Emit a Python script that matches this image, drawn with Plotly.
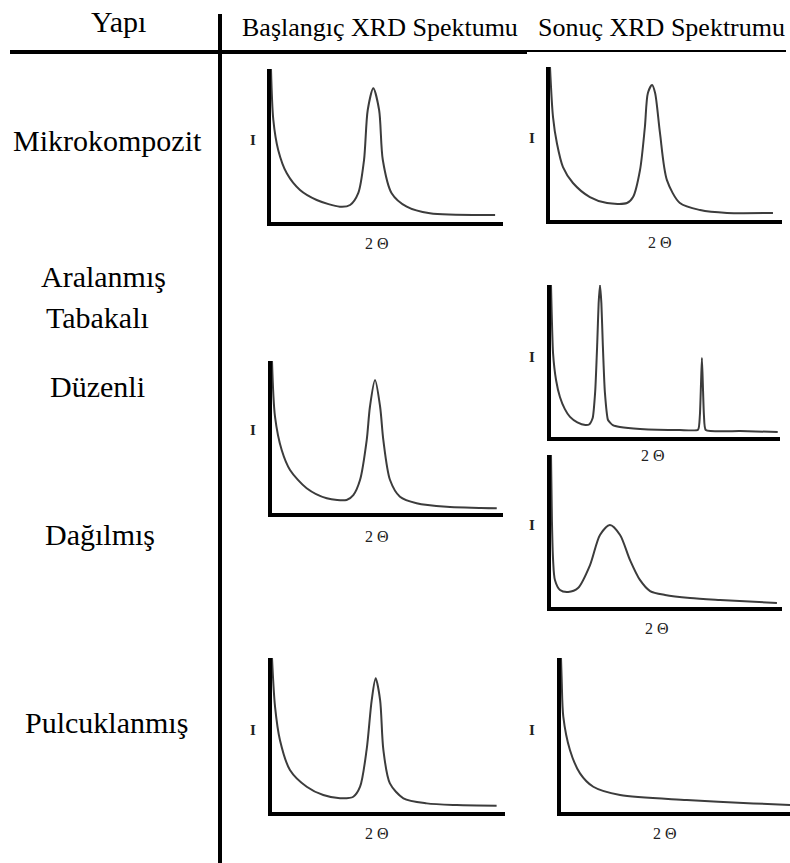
import plotly.graph_objects as go

W, H = 790, 863

# ---------------- data (intensity vs 2-theta, arbitrary units) ----------------
# Başlangıç - Mikrokompozit
p1_x = [0, 1.0, 3.1, 6.8, 12.5, 19.7, 29.7, 34.1, 37.6, 40.1, 41.7, 44.1, 46.6, 48.2, 52.0, 58.5, 68.5, 96.6]
p1_y = [100, 66.7, 47.1, 31.8, 20.9, 14.4, 10.0, 11.1, 18.8, 40.5, 73.2, 87.4, 73.2, 40.5, 18.8, 10.0, 5.7, 4.6]
# Sonuç - Mikrokompozit
p2_x = [0, 1.3, 3.0, 5.6, 9.9, 17.2, 24.6, 33.2, 35.8, 38.8, 40.9, 42.2, 44.0, 45.3, 47.4, 50.4, 56.0, 64.7, 76.3, 96.1]
p2_y = [100, 67.3, 50.0, 34.6, 24.2, 15.0, 11.1, 11.1, 15.0, 32.7, 60.8, 83.0, 88.2, 83.0, 56.9, 26.1, 11.1, 6.5, 4.6, 4.6]
# Sonuç - Aralanmış Tabakalı Düzenli
p3_x = [0, 0.9, 2.2, 3.9, 6.0, 8.3, 11.5, 15.0, 16.8, 18.2, 19.3, 20.2, 20.8, 21.4, 22.0, 22.6, 23.5, 24.9, 27.0, 30.1, 38.9, 56.3, 64.2, 65.0, 65.5, 65.9, 66.3, 66.8, 67.6, 82.5, 99.0]
p3_y = [100, 55.0, 37.5, 26.3, 18.5, 13.2, 9.6, 7.9, 8.4, 12.5, 30.0, 62.0, 88.0, 100, 88.0, 62.0, 30.0, 11.2, 7.8, 6.6, 5.3, 4.6, 4.8, 14.0, 35.0, 52.0, 35.0, 14.0, 4.6, 3.9, 3.3]
# Sonuç - Dağılmış
p4_x = [0, 0.4, 0.9, 1.7, 3.9, 7.4, 11.7, 16.9, 21.2, 25.5, 29.9, 34.2, 38.5, 42.9, 49.4, 60.2, 73.2, 97.8]
p4_y = [100, 57.0, 31.0, 17.8, 11.2, 9.9, 12.5, 27.6, 47.4, 54.0, 47.4, 30.9, 17.8, 10.5, 7.9, 5.9, 4.6, 2.6]
# Başlangıç - Düzenli
p5_x = [0, 1.3, 4.2, 7.8, 15.0, 23.7, 32.3, 35.2, 38.1, 41.0, 42.4, 44.6, 46.8, 48.2, 51.1, 55.4, 62.6, 75.6, 97.3]
p5_y = [100, 63.4, 41.4, 28.3, 16.3, 9.7, 8.6, 11.8, 21.7, 48.0, 69.9, 87.5, 69.9, 48.0, 21.7, 10.7, 6.4, 4.1, 3.1]
# Başlangıç - Pulcuklanmış
p6_x = [0, 1.3, 3.4, 7.7, 14.9, 22.0, 29.2, 34.9, 37.8, 40.6, 42.8, 44.5, 46.4, 47.8, 50.6, 56.4, 66.4, 79.3, 96.4]
p6_y = [100, 68.4, 46.8, 27.3, 16.4, 11.0, 8.9, 9.9, 16.4, 40.3, 72.7, 86.8, 72.7, 40.3, 18.6, 8.9, 5.6, 4.5, 4.1]
# Sonuç - Pulcuklanmış
p7_x = [0, 0.3, 1.0, 3.9, 8.3, 14.1, 25.8, 54.9, 84.0, 100]
p7_y = [100, 85.7, 61.9, 40.3, 25.1, 16.4, 11.0, 7.8, 5.6, 4.5]

header_texts = ["Yapı", "Başlangıç XRD Spektumu", "Sonuç XRD Spektrumu"]
row_labels = ["Mikrokompozit", "Aralanmış", "Tabakalı", "Düzenli", "Dağılmış", "Pulcuklanmış"]
y_label = "I"
x_label = "2 Θ"

# ---------------- layout (pixel boxes) ----------------
panels = [
    dict(x=p1_x, y=p1_y, box=(271, 503, 69, 222), smooth=0.8, I=(253, 140), T=(377, 243)),
    dict(x=p2_x, y=p2_y, box=(550, 782, 67, 220), smooth=0.8, I=(532, 138), T=(660, 242)),
    dict(x=p3_x, y=p3_y, box=(551, 780, 285, 437), smooth=0.5, I=(532, 357), T=(653, 456)),
    dict(x=p4_x, y=p4_y, box=(551, 782, 455, 607), smooth=0.8, I=(532, 525), T=(657, 628)),
    dict(x=p5_x, y=p5_y, box=(272, 503, 361, 513), smooth=0.8, I=(253, 430), T=(377, 536)),
    dict(x=p6_x, y=p6_y, box=(272, 505, 658, 812), smooth=0.8, I=(253, 730), T=(377, 833)),
    dict(x=p7_x, y=p7_y, box=(561, 790, 658, 812), smooth=0.8, I=(532, 730), T=(665, 833)),
]

def px(x):
    return x / W

def py(y):
    return 1 - y / H

fig = go.Figure()
annotations = []
layout_axes = {}
serif = "Liberation Serif, Times New Roman, serif"

for i, p in enumerate(panels, start=1):
    xa = "x" if i == 1 else f"x{i}"
    ya = "y" if i == 1 else f"y{i}"
    line = dict(color="#3c3c3c", width=2, shape="spline", smoothing=p["smooth"])
    fig.add_trace(go.Scatter(x=p["x"], y=p["y"], mode="lines", line=line,
                             xaxis=xa, yaxis=ya, showlegend=False, hoverinfo="skip"))
    L, R, T, B = p["box"]
    common = dict(showline=True, linewidth=4, linecolor="black", showticklabels=False,
                  ticks="", showgrid=False, zeroline=False, fixedrange=True)
    layout_axes["xaxis" if i == 1 else f"xaxis{i}"] = dict(domain=[px(L), px(R)], range=[0, 100], anchor=ya, **common)
    layout_axes["yaxis" if i == 1 else f"yaxis{i}"] = dict(domain=[py(B), py(T)], range=[0, 100], anchor=xa, **common)
    annotations.append(dict(text="<b>" + y_label + "</b>", x=px(p["I"][0]), y=py(p["I"][1]), xref="paper", yref="paper",
                            showarrow=False, font=dict(family=serif, size=15, color="#222"),
                            xanchor="center", yanchor="middle"))
    annotations.append(dict(text=x_label, x=px(p["T"][0]), y=py(p["T"][1]), xref="paper", yref="paper",
                            showarrow=False, font=dict(family=serif, size=16, color="#222"),
                            xanchor="center", yanchor="middle"))

# headers
header_pos = [(118, 21, 30), (380, 28, 26), (661, 28, 26)]
for t, (x, y, s) in zip(header_texts, header_pos):
    annotations.append(dict(text=t, x=px(x), y=py(y), xref="paper", yref="paper", showarrow=False,
                            font=dict(family=serif, size=s, color="black"),
                            xanchor="center", yanchor="middle"))

# row labels
label_pos = [(107, 140), (103, 277), (97, 317), (97, 386), (100, 534), (106, 722)]
for t, (x, y) in zip(row_labels, label_pos):
    annotations.append(dict(text=t, x=px(x), y=py(y), xref="paper", yref="paper", showarrow=False,
                            font=dict(family=serif, size=30, color="black"),
                            xanchor="center", yanchor="middle"))

shapes = [
    dict(type="line", xref="paper", yref="paper", x0=px(10), x1=px(527), y0=py(52), y1=py(52),
         line=dict(color="black", width=4)),
    dict(type="line", xref="paper", yref="paper", x0=px(527), x1=px(786), y0=py(51), y1=py(51),
         line=dict(color="black", width=2)),
    dict(type="line", xref="paper", yref="paper", x0=px(220), x1=px(220), y0=py(14), y1=py(863),
         line=dict(color="black", width=4)),
]

fig.update_layout(width=W, height=H, margin=dict(l=0, r=0, t=0, b=0),
                  paper_bgcolor="white", plot_bgcolor="white",
                  annotations=annotations, shapes=shapes, **layout_axes)

fig.write_html("out.html", config=dict(displayModeBar=False))
